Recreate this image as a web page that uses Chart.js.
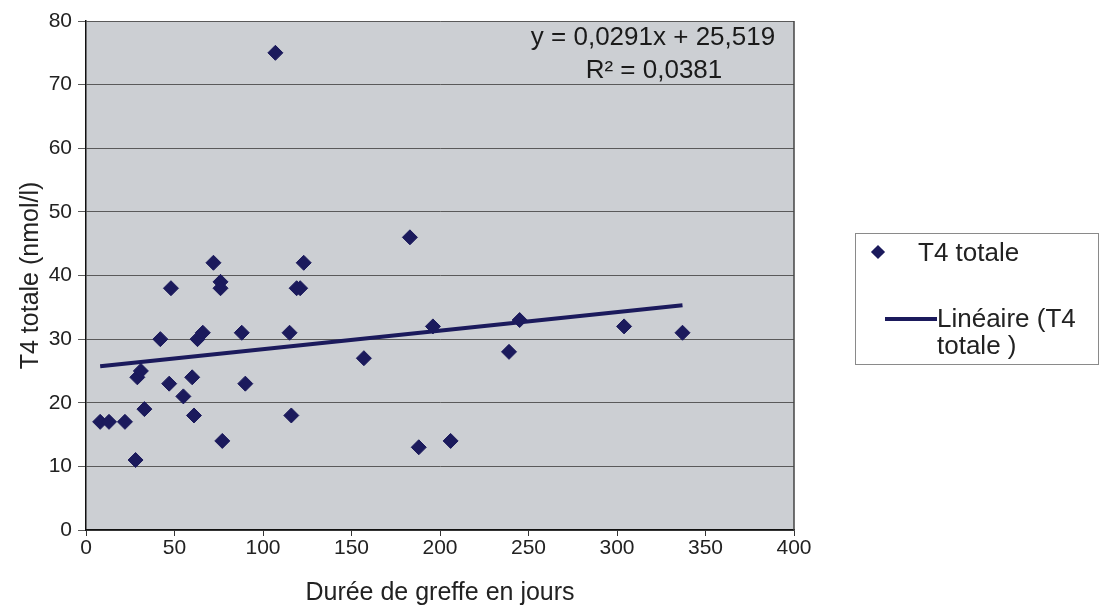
<!DOCTYPE html>
<html>
<head>
<meta charset="utf-8">
<script src="https://cdn.jsdelivr.net/npm/chart.js@4/dist/chart.umd.min.js"></script>
<style>
  html, body { margin: 0; padding: 0; background: #fff; }
  #wrap { position: relative; width: 1104px; height: 614px; }
  #chart { position: absolute; left: 0; top: 0; }
  #legend {
    position: absolute; left: 855px; top: 233px; width: 244px; height: 132px;
    border: 1px solid #8a8a8a; box-sizing: border-box;
    font-family: "Liberation Sans", Arial, sans-serif; font-size: 26px; color: #222;
  }
  #legend .item { position: absolute; white-space: nowrap; line-height: 27px; }
  #legend .diamond {
    position: absolute; left: 17px; top: 13px; width: 10px; height: 10px;
    background: #1b1a5c; transform: rotate(45deg);
  }
  #legend .line { position: absolute; left: 29px; top: 83px; width: 52px; height: 4px; background: #1b1a5c; }
</style>
</head>
<body>
<div id="wrap">
  <canvas id="chart" width="1104" height="614"></canvas>
  <div id="legend">
    <div class="diamond"></div>
    <div class="item" style="left:62px; top:5px;">T4 totale</div>
    <div class="line"></div>
    <div class="item" style="left:81px; top:71px;">Linéaire (T4<br>totale )</div>
  </div>
</div>
<script>
// scatter values
const dureeJours = [8, 13, 22, 28, 29, 31, 33, 42, 47, 48, 55, 60, 61, 63, 66, 72, 76, 76,
  77, 88, 90, 107, 115, 116, 119, 121, 123, 157, 183, 188, 196, 206, 239, 245, 304, 337];
const t4Totale = [17, 17, 17, 11, 24, 25, 19, 30, 23, 38, 21, 24, 18, 30, 31, 42, 39, 38,
  14, 31, 23, 75, 31, 18, 38, 38, 42, 27, 46, 13, 32, 14, 28, 33, 32, 31];

// trend line as printed on the chart
const TREND_SLOPE = 0.0291;
const TREND_INTERCEPT = 25.519;
const equationLines = ['y = 0,0291x + 25,519', 'R\u00b2 = 0,0381'];

const xTicks = [0, 50, 100, 150, 200, 250, 300, 350, 400];
const yTicks = [0, 10, 20, 30, 40, 50, 60, 70, 80];

const NAVY = '#1b1a5c';
const FONT = '"Liberation Sans", Arial, sans-serif';

const points = dureeJours.map((d, i) => ({ x: d, y: t4Totale[i] }));
const xMin = Math.min(...dureeJours);
const xMax = Math.max(...dureeJours);
const trend = [xMin, xMax].map(x => ({ x, y: TREND_SLOPE * x + TREND_INTERCEPT }));

// plot background, frame and equation label
const plotDecor = {
  id: 'plotDecor',
  beforeDraw(chart) {
    const { ctx, chartArea: a } = chart;
    ctx.save();
    ctx.fillStyle = '#cccfd3';
    ctx.fillRect(a.left, a.top, a.right - a.left, a.bottom - a.top);
    ctx.restore();
  },
  afterDraw(chart) {
    const { ctx, chartArea: a } = chart;
    ctx.save();
    ctx.strokeStyle = '#444';
    ctx.lineWidth = 1.5;
    ctx.beginPath();
    ctx.moveTo(a.right, a.top);
    ctx.lineTo(a.right, a.bottom);
    ctx.stroke();
    ctx.fillStyle = '#1a1a1a';
    ctx.font = '26px ' + FONT;
    ctx.textAlign = 'center';
    ctx.textBaseline = 'middle';
    ctx.fillText(equationLines[0], 653, 38);
    ctx.fillText(equationLines[1], 654, 71);
    ctx.restore();
  }
};

new Chart(document.getElementById('chart'), {
  type: 'scatter',
  data: {
    datasets: [
      {
        label: 'T4 totale',
        data: points,
        pointStyle: 'rectRot',
        pointRadius: 7.5,
        pointHoverRadius: 7.5,
        backgroundColor: NAVY,
        borderColor: NAVY,
        borderWidth: 1,
        order: 1
      },
      {
        label: 'Linéaire (T4 totale )',
        type: 'line',
        data: trend,
        borderColor: NAVY,
        borderWidth: 4,
        pointRadius: 0,
        fill: false,
        order: 2
      }
    ]
  },
  options: {
    responsive: false,
    animation: false,
    layout: { padding: { top: 21, right: 310, left: 0, bottom: 0 } },
    plugins: { legend: { display: false }, tooltip: { enabled: false } },
    scales: {
      x: {
        type: 'linear',
        min: xTicks[0],
        max: xTicks[xTicks.length - 1],
        afterBuildTicks: s => { s.ticks = xTicks.map(v => ({ value: v })); },
        afterFit: s => { s.height = 84; },
        grid: { drawOnChartArea: false, drawTicks: true, tickLength: 6, color: '#333' },
        border: { color: '#111', width: 1.5 },
        ticks: { color: '#222', font: { family: FONT, size: 21 }, padding: 0, maxRotation: 0 },
        title: {
          display: true, text: 'Durée de greffe en jours', color: '#222',
          font: { family: FONT, size: 25 }, padding: { top: 0, bottom: 6 }
        }
      },
      y: {
        min: yTicks[0],
        max: yTicks[yTicks.length - 1],
        afterBuildTicks: s => { s.ticks = yTicks.map(v => ({ value: v })); },
        afterFit: s => { s.width = 86; },
        grid: { color: '#5a5a5a', lineWidth: 1, drawTicks: true, tickLength: 8 },
        border: { color: '#111', width: 1.5 },
        ticks: { color: '#222', font: { family: FONT, size: 21 }, padding: 6 },
        title: {
          display: true, text: 'T4 totale (nmol/l)', color: '#222',
          font: { family: FONT, size: 25 }, padding: { top: 16, bottom: 0 }
        }
      }
    }
  },
  plugins: [plotDecor]
});
</script>
</body>
</html>
